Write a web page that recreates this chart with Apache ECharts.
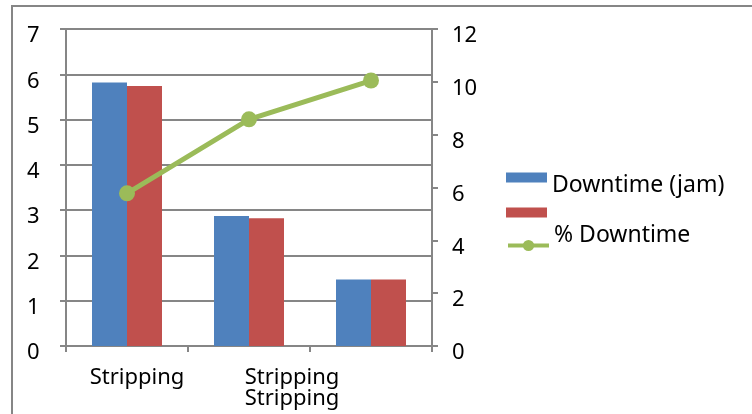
<!DOCTYPE html>
<html>
<head>
<meta charset="utf-8">
<script src="https://cdn.jsdelivr.net/npm/echarts@6/dist/echarts.min.js"></script>
<style>
  html, body { margin: 0; padding: 0; background: #fff; }
  #chart { width: 752px; height: 414px; }
</style>
</head>
<body>
<div id="chart"></div>
<script>
// Categories and values
const categories = ['Stripping', 'Stripping\nStripping', ''];
const downtimeJam = [5.82, 2.87, 1.47];
const secondSeries = [5.74, 2.82, 1.47];
const pctDowntime = [5.78, 8.58, 10.05];

const leftTicks = [0, 7, 1];
const rightTicks = [0, 12, 2];

const FONT = '"Noto Sans", sans-serif';
const GRAY = '#868686';
const GREEN = '#9BBB59';

// horizontal nudge for each category label
const labelShift = [20, 86, 0];

const chart = echarts.init(document.getElementById('chart'), null, { renderer: 'canvas' });

const valueLabel = {
  color: '#000', fontFamily: FONT, fontSize: 22,
  verticalAlign: 'top', lineHeight: 14
};

chart.setOption({
  animation: false,
  textStyle: { fontFamily: FONT },
  graphic: [{
    type: 'rect',
    silent: true,
    shape: { x: 12, y: 6, width: 800, height: 500 },
    style: { fill: 'none', stroke: GRAY, lineWidth: 2 }
  }],
  grid: { left: 66, right: 320, top: 29, bottom: 68 },
  legend: [{
    // bar series entries
    orient: 'vertical',
    left: 506,
    top: 158,
    padding: 0,
    itemWidth: 41,
    itemHeight: 10,
    itemGap: -4,
    formatter: '{t|{name}}',
    textStyle: {
      fontFamily: FONT, fontSize: 23, color: '#000',
      rich: { t: { fontFamily: FONT, fontSize: 23, lineHeight: 22, padding: [16, 0, 0, 0] } }
    },
    data: [
      { name: 'Downtime (jam)', icon: 'rect' },
      { name: ' ', icon: 'rect' }
    ]
  }, {
    // line series entry
    orient: 'vertical',
    left: 506,
    top: 224,
    padding: 0,
    itemWidth: 41,
    itemHeight: 14,
    lineStyle: { width: 4 },
    formatter: '{t|{name}}',
    textStyle: {
      fontFamily: FONT, fontSize: 23, color: '#000',
      rich: { t: { fontFamily: FONT, fontSize: 23, lineHeight: 22, padding: [0, 0, 20, 0] } }
    },
    data: ['% Downtime']
  }],
  xAxis: {
    type: 'category',
    data: categories.map((c, i) => ({
      value: c,
      textStyle: { padding: [0, 0, 0, labelShift[i]] }
    })),
    axisLine: { lineStyle: { color: GRAY, width: 2 } },
    axisTick: { show: true, length: 6, lineStyle: { color: GRAY, width: 2 } },
    axisLabel: {
      color: '#000', fontFamily: FONT, fontSize: 22, margin: 21, lineHeight: 21,
      interval: 0
    }
  },
  yAxis: [{
    type: 'value',
    min: leftTicks[0], max: leftTicks[1], interval: leftTicks[2],
    axisLine: { show: true, lineStyle: { color: GRAY, width: 2 } },
    axisTick: { show: true, length: 6, lineStyle: { color: GRAY, width: 2 } },
    splitLine: { lineStyle: { color: GRAY, width: 2 } },
    axisLabel: Object.assign({ margin: 39, align: 'left' }, valueLabel)
  }, {
    type: 'value',
    min: rightTicks[0], max: rightTicks[1], interval: rightTicks[2],
    position: 'right',
    axisLine: { show: true, lineStyle: { color: GRAY, width: 2 } },
    axisTick: { show: true, length: 6, lineStyle: { color: GRAY, width: 2 } },
    splitLine: { show: false },
    axisLabel: Object.assign({ margin: 20 }, valueLabel)
  }],
  series: [{
    name: 'Downtime (jam)',
    type: 'bar',
    data: downtimeJam,
    barWidth: 35,
    barGap: '0%',
    itemStyle: { color: '#4F81BD' }
  }, {
    name: ' ',
    type: 'bar',
    data: secondSeries,
    barWidth: 35,
    barGap: '0%',
    itemStyle: { color: '#C0504D' }
  }, {
    name: '% Downtime',
    type: 'line',
    yAxisIndex: 1,
    data: pctDowntime,
    symbol: 'circle',
    symbolSize: 16,
    lineStyle: { color: GREEN, width: 5 },
    itemStyle: { color: GREEN }
  }]
});
</script>
</body>
</html>
